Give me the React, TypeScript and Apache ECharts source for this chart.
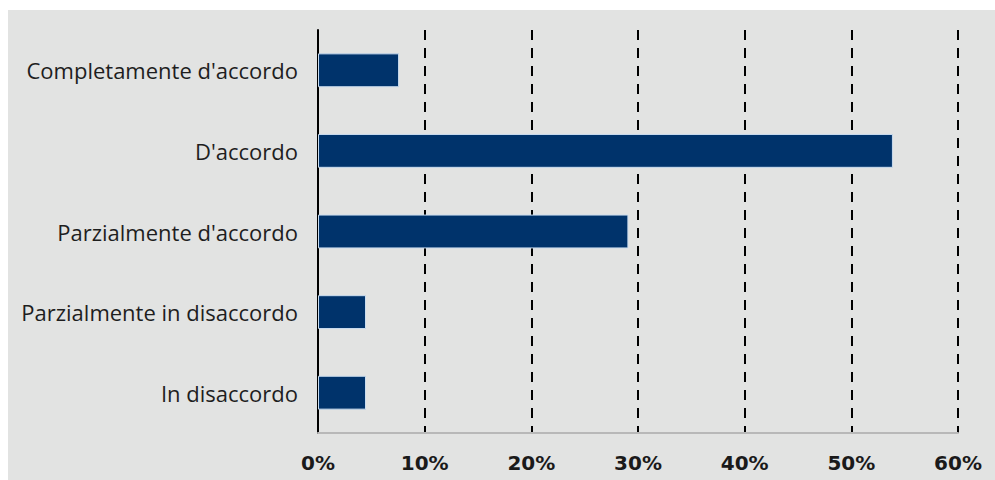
import React, { useEffect, useRef } from "react";
import * as echarts from "echarts";

const categories = [
  "In disaccordo",
  "Parzialmente in disaccordo",
  "Parzialmente d'accordo",
  "D'accordo",
  "Completamente d'accordo",
];
const values = [4.5, 4.5, 29.1, 53.9, 7.6];
const tickMax = 60;
const tickStep = 10;

export default function App() {
  const ref = useRef<HTMLDivElement>(null);
  useEffect(() => {
    if (!ref.current) return;
    const chart = echarts.init(ref.current, undefined, { renderer: "svg" });
    chart.setOption({
      animation: false,
      backgroundColor: "#e2e3e2",
      grid: { left: 310, right: 37, top: 20, bottom: 47 },
      xAxis: {
        type: "value",
        min: 0,
        max: tickMax,
        interval: tickStep,
        axisLine: { show: true, lineStyle: { color: "#b8b8b8", width: 2 } },
        axisTick: { show: false },
        axisLabel: {
          formatter: "{value}%",
          margin: 20,
          color: "#1a1a1a",
          fontSize: 20,
          fontWeight: "bold",
          fontFamily: "DejaVu Sans",
        },
        splitLine: {
          show: true,
          lineStyle: { color: "#000", width: 2, type: [10, 8] },
        },
      },
      yAxis: {
        type: "category",
        data: categories,
        axisLine: { show: true, lineStyle: { color: "#000", width: 2 } },
        axisTick: { show: false },
        axisLabel: {
          margin: 20,
          color: "#1e1e1e",
          fontSize: 22,
          fontFamily: "Open Sans",
        },
      },
      series: [
        {
          type: "bar",
          data: values,
          barWidth: "42%",
          itemStyle: { color: "#00336b", borderColor: "#c9dcef", borderWidth: 1 },
        },
      ],
    });
    return () => chart.dispose();
  }, []);
  return (
    <div
      ref={ref}
      style={{ position: "absolute", left: 8, top: 10, width: 987, height: 470 }}
    />
  );
}
